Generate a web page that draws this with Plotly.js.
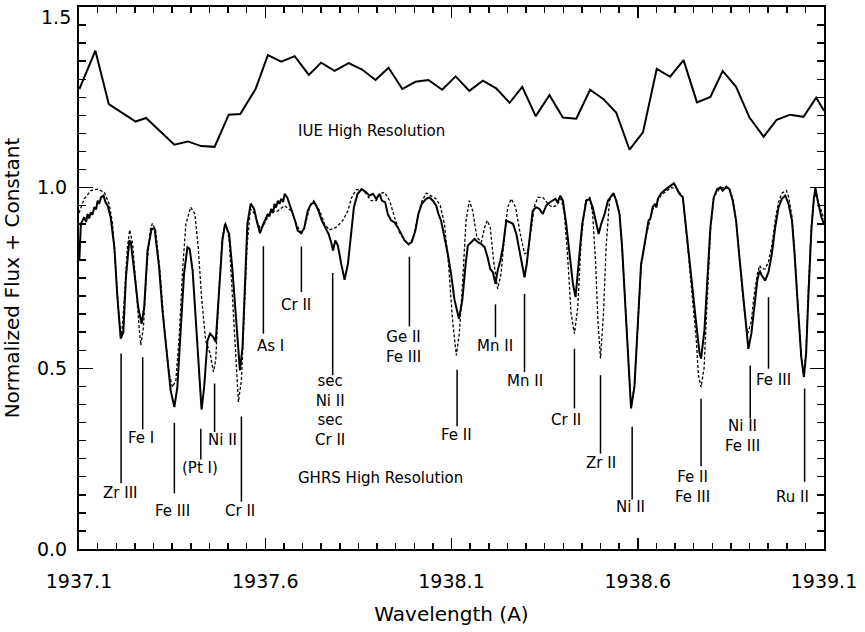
<!DOCTYPE html>
<html>
<head>
<meta charset="utf-8">
<script src="https://cdn.plot.ly/plotly-3.0.1.min.js"></script>
<style>html,body{margin:0;padding:0;background:#fff;}#chart{width:865px;height:632px;}</style>
</head>
<body>
<div id="chart"></div>
<script>
// IUE high resolution spectrum (offset upward)
const iueWave = [1937.101,1937.144,1937.180,1937.252,1937.280,1937.356,1937.392,1937.428,1937.464,1937.502,1937.533,1937.574,1937.607,1937.643,1937.679,1937.717,1937.750,1937.786,1937.824,1937.860,1937.896,1937.931,1937.968,1938.003,1938.038,1938.075,1938.111,1938.148,1938.184,1938.220,1938.256,1938.290,1938.326,1938.363,1938.399,1938.435,1938.472,1938.508,1938.542,1938.578,1938.614,1938.651,1938.687,1938.723,1938.759,1938.795,1938.828,1938.864,1938.900,1938.938,1938.973,1939.009,1939.045,1939.079,1939.100];
const iueFlux = [1.273,1.379,1.231,1.183,1.193,1.119,1.128,1.115,1.113,1.202,1.204,1.273,1.367,1.349,1.364,1.312,1.346,1.323,1.345,1.327,1.298,1.332,1.273,1.293,1.298,1.271,1.308,1.268,1.296,1.275,1.235,1.279,1.198,1.256,1.194,1.191,1.271,1.245,1.208,1.105,1.153,1.329,1.307,1.353,1.236,1.251,1.323,1.279,1.194,1.141,1.188,1.202,1.196,1.249,1.213];

// GHRS high resolution observed spectrum (solid)
const ghrsWave = [1937.101,1937.105,1937.114,1937.119,1937.123,1937.127,1937.132,1937.136,1937.141,1937.146,1937.150,1937.154,1937.159,1937.166,1937.171,1937.177,1937.185,1937.195,1937.203,1937.212,1937.219,1937.226,1937.235,1937.239,1937.248,1937.259,1937.268,1937.275,1937.284,1937.295,1937.303,1937.315,1937.324,1937.338,1937.346,1937.356,1937.364,1937.373,1937.382,1937.391,1937.397,1937.405,1937.414,1937.423,1937.429,1937.436,1937.445,1937.452,1937.461,1937.467,1937.476,1937.485,1937.492,1937.503,1937.512,1937.521,1937.532,1937.539,1937.545,1937.552,1937.561,1937.570,1937.579,1937.586,1937.595,1937.599,1937.607,1937.611,1937.616,1937.621,1937.625,1937.629,1937.634,1937.638,1937.643,1937.648,1937.652,1937.659,1937.670,1937.680,1937.687,1937.697,1937.705,1937.714,1937.723,1937.732,1937.741,1937.752,1937.761,1937.770,1937.777,1937.782,1937.788,1937.795,1937.804,1937.813,1937.822,1937.829,1937.838,1937.848,1937.859,1937.871,1937.880,1937.889,1937.898,1937.907,1937.913,1937.922,1937.929,1937.938,1937.947,1937.956,1937.965,1937.974,1937.985,1937.993,1938.003,1938.011,1938.020,1938.032,1938.041,1938.050,1938.059,1938.065,1938.072,1938.081,1938.090,1938.099,1938.108,1938.120,1938.129,1938.138,1938.144,1938.153,1938.162,1938.171,1938.180,1938.189,1938.197,1938.204,1938.211,1938.218,1938.224,1938.231,1938.238,1938.247,1938.256,1938.265,1938.274,1938.283,1938.290,1938.296,1938.302,1938.309,1938.318,1938.327,1938.336,1938.345,1938.354,1938.363,1938.372,1938.379,1938.385,1938.392,1938.399,1938.408,1938.417,1938.426,1938.433,1938.442,1938.451,1938.462,1938.471,1938.479,1938.488,1938.495,1938.502,1938.511,1938.520,1938.529,1938.535,1938.542,1938.551,1938.558,1938.567,1938.576,1938.582,1938.591,1938.600,1938.609,1938.614,1938.623,1938.629,1938.634,1938.640,1938.647,1938.650,1938.654,1938.663,1938.676,1938.690,1938.697,1938.703,1938.712,1938.721,1938.730,1938.739,1938.748,1938.757,1938.766,1938.770,1938.779,1938.786,1938.795,1938.804,1938.813,1938.822,1938.828,1938.838,1938.846,1938.855,1938.864,1938.873,1938.882,1938.891,1938.897,1938.905,1938.912,1938.921,1938.927,1938.933,1938.942,1938.951,1938.960,1938.969,1938.978,1938.987,1938.996,1939.005,1939.014,1939.021,1939.030,1939.039,1939.046,1939.052,1939.058,1939.066,1939.073,1939.077,1939.083,1939.093,1939.100];
const ghrsFlux = [0.800,0.900,0.918,0.905,0.927,0.915,0.932,0.925,0.946,0.940,0.964,0.955,0.973,0.978,0.960,0.950,0.918,0.835,0.697,0.582,0.600,0.752,0.854,0.849,0.771,0.669,0.623,0.669,0.826,0.886,0.886,0.780,0.660,0.522,0.439,0.393,0.448,0.605,0.762,0.835,0.831,0.771,0.623,0.467,0.386,0.448,0.577,0.596,0.586,0.573,0.715,0.854,0.900,0.872,0.771,0.633,0.494,0.559,0.743,0.900,0.956,0.941,0.900,0.874,0.900,0.910,0.927,0.920,0.941,0.930,0.955,0.945,0.964,0.955,0.969,0.960,0.983,0.973,0.941,0.909,0.881,0.874,0.890,0.936,0.955,0.959,0.941,0.909,0.890,0.872,0.849,0.826,0.854,0.840,0.789,0.745,0.789,0.863,0.946,0.983,0.996,0.987,0.978,0.983,0.969,0.983,0.964,0.959,0.927,0.909,0.904,0.890,0.872,0.854,0.843,0.849,0.881,0.927,0.955,0.969,0.973,0.964,0.950,0.927,0.909,0.863,0.817,0.760,0.690,0.637,0.688,0.789,0.840,0.849,0.858,0.849,0.844,0.835,0.807,0.775,0.766,0.734,0.771,0.798,0.835,0.909,0.904,0.900,0.872,0.826,0.780,0.752,0.789,0.854,0.936,0.946,0.941,0.927,0.950,0.959,0.964,0.969,0.959,0.978,0.964,0.900,0.817,0.734,0.697,0.789,0.900,0.964,0.969,0.946,0.909,0.872,0.900,0.927,0.964,0.978,0.985,0.964,0.927,0.835,0.669,0.485,0.389,0.448,0.633,0.790,0.817,0.872,0.909,0.915,0.946,0.955,0.945,0.969,0.985,0.996,1.006,1.012,1.001,0.983,0.973,0.881,0.789,0.715,0.623,0.541,0.527,0.605,0.743,0.890,0.973,0.996,1.001,0.992,1.003,0.996,0.964,0.909,0.807,0.706,0.614,0.554,0.596,0.669,0.743,0.771,0.757,0.743,0.766,0.817,0.890,0.946,0.969,0.978,0.955,0.909,0.817,0.669,0.531,0.476,0.541,0.697,0.881,0.973,0.999,0.964,0.918,0.900];

// Model spectrum (dashed)
const modelWave = [1937.100,1937.114,1937.132,1937.150,1937.168,1937.181,1937.190,1937.199,1937.208,1937.214,1937.221,1937.230,1937.236,1937.244,1937.252,1937.262,1937.266,1937.273,1937.282,1937.291,1937.297,1937.306,1937.318,1937.329,1937.342,1937.351,1937.360,1937.369,1937.378,1937.387,1937.400,1937.411,1937.420,1937.429,1937.440,1937.452,1937.461,1937.467,1937.476,1937.485,1937.494,1937.503,1937.512,1937.521,1937.528,1937.536,1937.544,1937.551,1937.560,1937.570,1937.579,1937.587,1937.595,1937.607,1937.616,1937.634,1937.652,1937.670,1937.683,1937.695,1937.705,1937.719,1937.730,1937.746,1937.759,1937.772,1937.790,1937.808,1937.822,1937.832,1937.844,1937.859,1937.871,1937.884,1937.898,1937.909,1937.920,1937.934,1937.947,1937.960,1937.974,1937.985,1937.996,1938.008,1938.019,1938.032,1938.045,1938.059,1938.070,1938.081,1938.092,1938.103,1938.113,1938.121,1938.130,1938.139,1938.148,1938.157,1938.168,1938.180,1938.189,1938.196,1938.204,1938.213,1938.224,1938.233,1938.242,1938.251,1938.260,1938.272,1938.283,1938.296,1938.305,1938.314,1938.323,1938.332,1938.345,1938.359,1938.370,1938.381,1938.395,1938.403,1938.412,1938.421,1938.430,1938.439,1938.448,1938.460,1938.471,1938.479,1938.487,1938.493,1938.500,1938.508,1938.515,1938.524,1938.533,1938.542,1938.551,1938.558,1938.567,1938.576,1938.582,1938.591,1938.600,1938.609,1938.623,1938.640,1938.663,1938.690,1938.703,1938.721,1938.730,1938.739,1938.748,1938.757,1938.763,1938.770,1938.778,1938.786,1938.795,1938.804,1938.822,1938.846,1938.855,1938.864,1938.873,1938.882,1938.891,1938.895,1938.905,1938.912,1938.921,1938.927,1938.933,1938.942,1938.951,1938.960,1938.969,1938.978,1938.987,1938.999,1939.005,1939.014,1939.021,1939.030,1939.039,1939.046,1939.052,1939.058,1939.066,1939.073,1939.079,1939.088,1939.100];
const modelFlux = [0.930,0.969,0.992,0.996,0.987,0.955,0.900,0.762,0.633,0.586,0.679,0.835,0.883,0.845,0.725,0.605,0.564,0.614,0.780,0.881,0.901,0.881,0.762,0.614,0.485,0.448,0.467,0.586,0.771,0.900,0.946,0.927,0.835,0.697,0.577,0.541,0.490,0.522,0.715,0.863,0.904,0.858,0.697,0.513,0.407,0.467,0.651,0.835,0.941,0.930,0.905,0.885,0.895,0.920,0.932,0.936,0.950,0.936,0.900,0.877,0.886,0.946,0.964,0.936,0.900,0.883,0.890,0.909,0.936,0.973,0.994,0.996,0.983,0.964,0.964,0.983,0.987,0.964,0.918,0.877,0.854,0.844,0.858,0.909,0.959,0.985,0.978,0.969,0.950,0.900,0.789,0.630,0.536,0.596,0.743,0.909,0.964,0.936,0.863,0.849,0.890,0.909,0.890,0.798,0.720,0.762,0.863,0.946,0.969,0.946,0.881,0.817,0.822,0.881,0.950,0.973,0.973,0.955,0.946,0.950,0.969,0.927,0.807,0.651,0.596,0.669,0.854,0.964,0.973,0.927,0.789,0.633,0.527,0.651,0.835,0.964,0.983,0.970,0.930,0.835,0.669,0.480,0.395,0.450,0.633,0.780,0.870,0.940,0.980,1.000,0.998,0.975,0.880,0.780,0.690,0.580,0.480,0.448,0.500,0.700,0.880,0.975,1.000,0.998,0.970,0.910,0.800,0.700,0.620,0.596,0.630,0.700,0.760,0.785,0.775,0.775,0.795,0.840,0.910,0.960,0.985,0.992,0.975,0.920,0.820,0.670,0.530,0.480,0.550,0.720,0.890,0.970,0.983,0.950,0.913];

// Line identification tick marks
const markWave = [1937.213,1937.271,1937.356,1937.427,1937.464,1937.536,1937.595,1937.697,1937.781,1937.987,1938.115,1938.218,1938.296,1938.430,1938.500,1938.585,1938.770,1938.902,1938.951,1939.048];
const markTop  = [0.541,0.531,0.349,0.333,0.458,0.367,0.838,0.837,0.764,0.809,0.496,0.677,0.706,0.554,0.481,0.338,0.416,0.508,0.697,0.444];
const markBot  = [0.182,0.331,0.154,0.248,0.324,0.131,0.596,0.711,0.481,0.616,0.340,0.586,0.490,0.389,0.264,0.137,0.229,0.361,0.499,0.186];

// Line identification labels (stacked identifications share one label)
const labelText = ["Zr III","Fe I","Fe III","(Pt I)","Ni II","Cr II","As I","Cr II","sec<br>Ni II<br>sec<br>Cr II","Ge II<br>Fe III","Fe II","Mn II","Mn II","Cr II","Zr II","Ni II","Fe II<br>Fe III","Ni II<br>Fe III","Fe III","Ru II"];
const labelWave = [1937.211,1937.267,1937.352,1937.426,1937.484,1937.533,1937.613,1937.683,1937.775,1937.971,1938.113,1938.218,1938.296,1938.408,1938.500,1938.581,1938.746,1938.880,1938.965,1939.015];
const labelFlux = [0.156,0.306,0.106,0.223,0.301,0.105,0.561,0.674,0.384,0.558,0.315,0.561,0.464,0.358,0.237,0.115,0.172,0.312,0.467,0.143];

// Panel captions
const captionText = ["IUE High Resolution","GHRS High Resolution"];
const captionWave = [1937.884,1937.909];
const captionFlux = [1.156,0.197];

// Axis ticks and titles
const yTickVals = [0.0, 0.5, 1.0, 1.5];
const yTickText = ["0.0", "0.5", "1.0", "1.5"];
const xTitle = "Wavelength (A)";
const yTitle = "Normalized Flux + Constant";

const FONT = "DejaVu Sans, Liberation Sans, sans-serif";

const mx = [], my = [];
for (let i = 0; i < markWave.length; i++) {
  mx.push(markWave[i], markWave[i], null);
  my.push(markTop[i], markBot[i], null);
}

const traces = [
  {x: iueWave, y: iueFlux, type: 'scatter', mode: 'lines', line: {color: '#000', width: 2}, hoverinfo: 'skip'},
  {x: modelWave, y: modelFlux, type: 'scatter', mode: 'lines', line: {color: '#000', width: 1.3, dash: '3px,2px'}, hoverinfo: 'skip'},
  {x: ghrsWave, y: ghrsFlux, type: 'scatter', mode: 'lines', line: {color: '#000', width: 2}, hoverinfo: 'skip'},
  {x: mx, y: my, type: 'scatter', mode: 'lines', line: {color: '#000', width: 1.5}, connectgaps: false, hoverinfo: 'skip'}
];

const annotations = [];
for (let i = 0; i < labelText.length; i++) {
  annotations.push({x: labelWave[i], y: labelFlux[i], xref: 'x', yref: 'y', text: labelText[i], showarrow: false,
    font: {family: FONT, size: 15, color: '#000'}, xanchor: 'center', yanchor: 'middle', align: 'center', borderpad: 0});
}
for (let i = 0; i < captionText.length; i++) {
  annotations.push({x: captionWave[i], y: captionFlux[i], xref: 'x', yref: 'y', text: captionText[i], showarrow: false,
    font: {family: FONT, size: 15, color: '#000'}, xanchor: 'center', yanchor: 'middle'});
}
// top y tick label sits just below the frame corner, as in the original
const yTickFont = {family: FONT, size: 19, color: '#000'};
const topIdx = yTickVals.length - 1;
annotations.push({x: 0, xref: 'paper', xanchor: 'right', xshift: -6, y: yTickVals[topIdx], yref: 'y', yanchor: 'middle', yshift: -10,
  text: yTickText[topIdx], showarrow: false, font: yTickFont});
const axisTickText = yTickText.map((t, i) => i === topIdx ? '' : t);

const layout = {
  width: 865, height: 632,
  margin: {l: 79, r: 41, t: 7, b: 83, pad: 0},
  paper_bgcolor: '#fff', plot_bgcolor: '#fff',
  showlegend: false,
  font: {family: FONT, size: 19, color: '#000'},
  xaxis: {
    range: [1937.1, 1939.1], tick0: 1937.1, dtick: 0.5, tickformat: '.1f',
    showgrid: false, zeroline: false, showline: true, linewidth: 2, linecolor: '#000', mirror: 'ticks',
    ticks: 'inside', ticklen: 11, tickwidth: 1.5, tickcolor: '#000', ticklabelstandoff: 14,
    minor: {dtick: 0.05, tick0: 1937.1, ticks: 'inside', ticklen: 6, tickwidth: 1.5, tickcolor: '#000', showgrid: false},
    tickfont: {family: FONT, size: 19, color: '#000'},
    title: {text: xTitle, font: {family: FONT, size: 20, color: '#000'}, standoff: 16},
    automargin: false
  },
  yaxis: {
    range: [0, 1.5], tickmode: 'array', tickvals: yTickVals, ticktext: axisTickText,
    showgrid: false, zeroline: false, showline: true, linewidth: 2, linecolor: '#000', mirror: 'ticks',
    ticks: 'inside', ticklen: 14, tickwidth: 1.5, tickcolor: '#000', ticklabelstandoff: 6,
    minor: {dtick: 0.05, tick0: 0, ticks: 'inside', ticklen: 7, tickwidth: 1.5, tickcolor: '#000', showgrid: false},
    tickfont: yTickFont,
    title: {text: yTitle, font: {family: FONT, size: 20, color: '#000'}, standoff: 12},
    automargin: false
  },
  annotations: annotations
};

Plotly.newPlot('chart', traces, layout, {staticPlot: true, displayModeBar: false});
</script>
</body>
</html>
